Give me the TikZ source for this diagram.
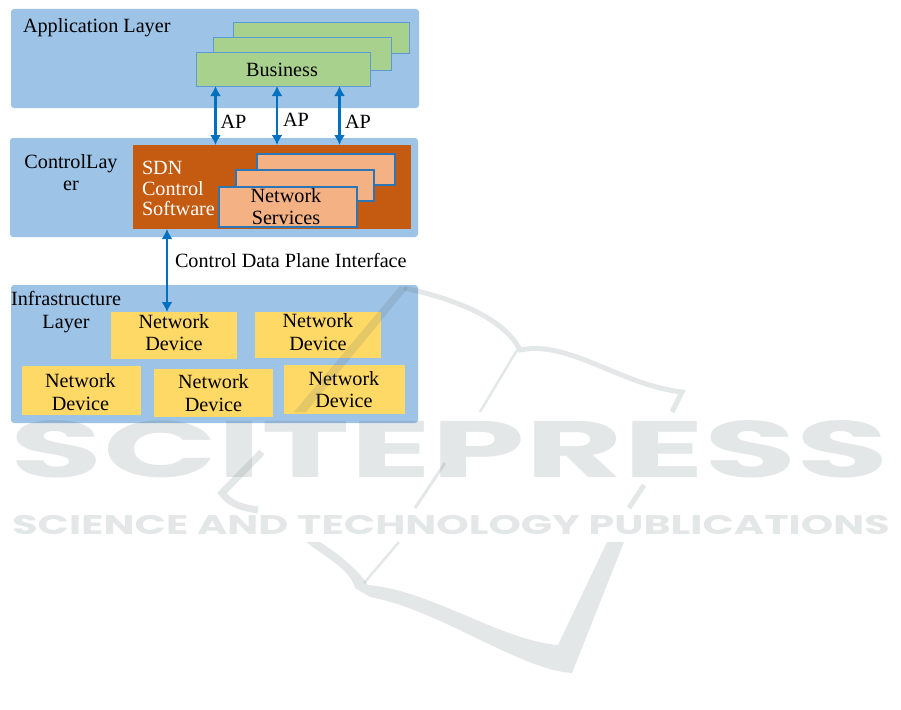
\documentclass[tikz,border=0pt]{standalone}
\usepackage{fontspec}
\setmainfont{Liberation Serif}
\newfontfamily\wmfont[BoldFont=Poppins Bold]{Poppins}
\definecolor{layerblue}{HTML}{9DC3E6}
\definecolor{greenfill}{HTML}{A9D18E}
\definecolor{greenline}{HTML}{5B9BD5}
\definecolor{ctrlorange}{HTML}{C55A11}
\definecolor{svcfill}{HTML}{F4B183}
\definecolor{svcline}{HTML}{2E75B6}
\definecolor{devfill}{HTML}{FFD966}
\definecolor{arrowblue}{HTML}{0070C0}
\definecolor{wmgray}{HTML}{5A6B6B}
\newcommand{\bx}[7]{%
  \pgfmathsetmacro{\bxcx}{(#3+#5)/2}\pgfmathsetmacro{\bxcy}{(#4+#6)/2}%
  \pgfmathsetmacro{\bxw}{#5-#3}\pgfmathsetmacro{\bxh}{#6-#4}%
  \node[#2,minimum width=\bxw pt,minimum height=\bxh pt] (#1) at (\bxcx,\bxcy) {#7};}
\tikzset{
  base/.style={inner sep=0pt,outer sep=0pt,text=black,font=\fontsize{20.2}{22.5}\selectfont,align=center},
  layer/.style={base,fill=layerblue,rounded corners=3pt},
  bizbox/.style={base,fill=greenfill,draw=greenline,line width=1pt},
  ctrlbox/.style={base,fill=ctrlorange},
  svcbox/.style={base,fill=svcfill,draw=svcline,line width=1.3pt},
  devbox/.style={base,fill=devfill},
  label/.style={base},
  whitelabel/.style={base,text=white,align=left,anchor=west},
  biarrow/.style={draw=arrowblue,line width=2.4pt,{Latex[length=10pt,width=11pt]}-{Latex[length=10pt,width=11pt]}},
  wm/.style={fill=wmgray,opacity=.16,draw=none},
  wmline/.style={draw=wmgray,draw opacity=.16,line cap=butt,line join=miter},
  wmtext/.style={inner sep=0pt,text=wmgray,text opacity=.16,font=\wmfont\bfseries},
}
\usetikzlibrary{arrows.meta}
\begin{document}
\begin{tikzpicture}[x=1pt,y=-1pt]
\useasboundingbox (0,0) rectangle (901,709);
\bx{applayer}{layer}{11}{9}{419}{108}{}
\bx{ctrllayer}{layer}{10}{138}{418}{237}{}
\bx{inflayer}{layer}{11}{285}{418}{423}{}
\bx{bizc}{bizbox}{233}{23}{409}{54}{}
\bx{bizb}{bizbox}{213}{38}{391}{70}{}
\bx{biza}{bizbox}{196.5}{53}{370}{86}{}
\node[label] (biztext) at (282,69.5) {Business};
\bx{ctrl}{ctrlbox}{133}{145}{411}{229}{}
\bx{svcc}{svcbox}{257}{154}{395}{185}{}
\bx{svcb}{svcbox}{236}{170}{374}{201}{}
\bx{svca}{svcbox}{219}{187}{357}{227}{}
\node[label] (svctext) at (286,206.5) {Network\\Services};
\bx{deva}{devbox}{111}{312}{237}{359}{}
\bx{devb}{devbox}{255}{312}{381}{358}{}
\bx{devc}{devbox}{22}{366}{141}{415}{}
\bx{devd}{devbox}{154}{369}{273}{417}{}
\bx{deve}{devbox}{284}{365}{405}{414}{}
\node[label] (devatext) at (174,332.5) {Network\\Device};
\node[label] (devbtext) at (318,332) {Network\\Device};
\node[label] (devctext) at (80.5,392) {Network\\Device};
\node[label] (devdtext) at (213.5,393) {Network\\Device};
\node[label] (devetext) at (344,389.5) {Network\\Device};
\node[label,anchor=west] (applabel) at (23,28) {Application Layer};
\node[label] (ctrllabel) at (71,172.5) {ControlLay\\er};
\node[label] (inflabel) at (66,312) {Infrastructure\\Layer};
\node[whitelabel,font=\fontsize{20.2}{20.5}\selectfont] (sdnlabel) at (142,188.5) {SDN\\Control\\Software};
\coordinate (xa) at (215.5,120);
\coordinate (xb) at (277,120);
\coordinate (xc) at (339.5,120);
\coordinate (xd) at (167,260);
\draw[biarrow] (biza.south -| xa) -- (ctrl.north -| xa);
\draw[biarrow] (biza.south -| xb) -- (ctrl.north -| xb);
\draw[biarrow] (biza.south -| xc) -- (ctrl.north -| xc);
\draw[biarrow] (ctrl.south -| xd) -- (deva.north -| xd);
\node[label] (apa) at (233.5,122) {AP};
\node[label] (apb) at (296,120) {AP};
\node[label] (apc) at (358,122) {AP};
\node[label,anchor=west] (cdpi) at (175,260) {Control Data Plane Interface};
% watermark
\node[wmtext,font=\wmfont\bfseries\fontsize{80}{80}\selectfont,xscale=1.876,yscale=1] (wma) at (450,449) {SCITEPRESS};
\node[wmtext,font=\wmfont\bfseries\fontsize{27}{27}\selectfont,xscale=1.527,yscale=1] (wmb) at (451,525) {SCIENCE AND TECHNOLOGY PUBLICATIONS};
\fill[wm] (294,412) -- (400,286) -- (408,288) -- (306,412) -- cycle;
\draw[wmline,line width=5pt] (404,288) .. controls (460,300) and (505,320) .. (520,350) .. controls (570,340) and (620,385) .. (682,392) -- (672,412);
\draw[wmline,line width=2.5pt] (517,350) -- (480,412);
\draw[wmline,line width=7pt] (262,452) -- (222,493) .. controls (230,505) and (245,508) .. (258,510);
\draw[wmline,line width=3pt] (445,463) -- (415,508);
\draw[wmline,line width=5pt] (644,485) -- (629,508);
\draw[wmline,line width=2.5pt] (399,542) -- (364,583);
\fill[wm] (306,542) -- (320,542) .. controls (340,555) and (358,570) .. (368,585) .. controls (430,590) and (500,640) .. (558,645) -- (607,542) -- (624,542) -- (572,673) .. controls (520,670) and (440,610) .. (370,597) -- (355,588) .. controls (350,570) and (330,560) .. cycle;
\end{tikzpicture}
\end{document}
